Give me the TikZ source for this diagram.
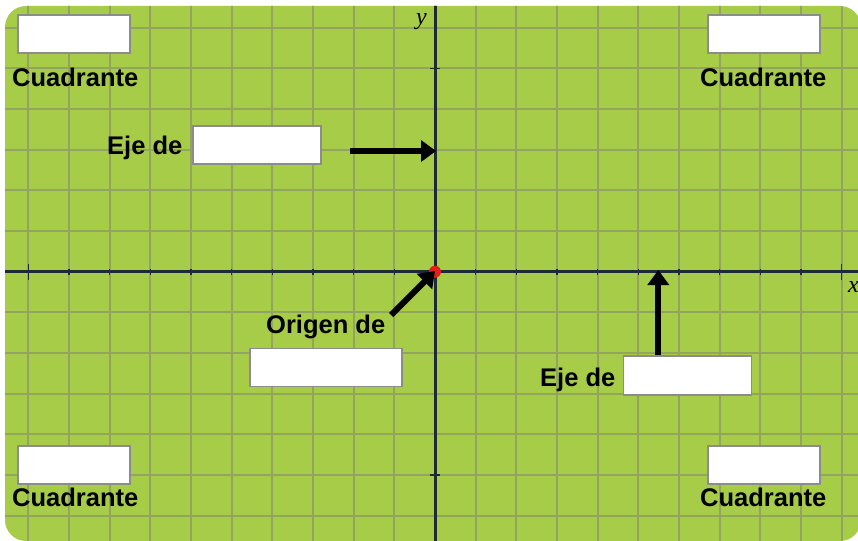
\documentclass[tikz,border=0pt]{standalone}
\usepackage{fontspec}
\setmainfont{Liberation Sans}
\newfontfamily\axisfont{Liberation Serif}
\usetikzlibrary{arrows.meta}
\definecolor{bggreen}{RGB}{166,204,72}
\definecolor{gridc}{RGB}{146,164,96}
\definecolor{axisc}{RGB}{30,42,54}
\definecolor{boxborder}{RGB}{140,140,140}
\definecolor{dotred}{RGB}{226,30,30}
\begin{document}
\begin{tikzpicture}[x=1pt,y=-1pt,
  blank/.style={draw=boxborder, line width=1.5pt, fill=white, inner sep=0pt},
  lbl/.style={font=\fontsize{25.5}{28}\selectfont\bfseries, inner sep=0pt, anchor=base west},
  axlbl/.style={font=\axisfont\itshape\fontsize{24}{26}\selectfont, inner sep=0pt, anchor=base west},
  pointer/.style={line width=6pt, -{Triangle[length=15pt,width=21pt]}},
  gridline/.style={gridc, line width=2pt},
  axisline/.style={axisc, line width=3pt}]
\useasboundingbox (0,0) rectangle (858,540);
\begin{scope}
  \clip (0,0) rectangle (858,540);
  \path[fill=bggreen, rounded corners=21pt] (5,6) rectangle (861,541);
  \begin{scope}
    \clip[rounded corners=21pt] (5,6) rectangle (861,541);
    \foreach \i in {-10,...,10}
      \draw[gridline] ({435+40.67*\i},0) -- ({435+40.67*\i},545);
    \foreach \j in {-6,...,6}
      \draw[gridline] (0,{271.7+40.67*\j}) -- (865,{271.7+40.67*\j});
    % axes
    \draw[axisline] (0,271.7) -- (865,271.7);
    \draw[axisline] (435,0) -- (435,545);
    % ticks
    \foreach \i in {-9,...,-1,1,2,...,9}
      \draw[axisc, line width=1.2pt] ({435+40.67*\i},268.5) -- ({435+40.67*\i},275);
    \foreach \i in {-10,10}
      \draw[axisc, line width=1.5pt] ({435+40.67*\i},264) -- ({435+40.67*\i},279.5);
    \foreach \j in {-5,5}
      \draw[axisc, line width=1.5pt] (430,{271.7+40.67*\j}) -- (440,{271.7+40.67*\j});
  \end{scope}
\end{scope}
% axis labels
\node[axlbl] (ylab) at (416,25) {y};
\node[axlbl] (xlab) at (848,292) {x};
% origin dot
\node[circle, fill=dotred, inner sep=0pt, minimum size=12pt] (origin) at (435,271.7) {};
% blank boxes
\node[blank, minimum width=112pt, minimum height=38pt] (boxtl) at (74,34) {};
\node[blank, minimum width=112pt, minimum height=38pt] (boxtr) at (764,34) {};
\node[blank, minimum width=112pt, minimum height=38pt] (boxbl) at (74,465) {};
\node[blank, minimum width=112pt, minimum height=38pt] (boxbr) at (764,465) {};
\node[blank, minimum width=128pt, minimum height=38pt] (boxy) at (257,145) {};
\node[blank, minimum width=152pt, minimum height=38pt] (boxo) at (326,367.5) {};
\node[blank, minimum width=128pt, minimum height=39pt] (boxx) at (687.5,375.5) {};
% labels
\node[lbl] (ctl) at (12,87) {Cuadrante};
\node[lbl] (ctr) at (700,87) {Cuadrante};
\node[lbl] (cbl) at (12,506) {Cuadrante};
\node[lbl] (cbr) at (700,506) {Cuadrante};
\node[lbl] (ejey) at (107,155) {Eje de};
\node[lbl] (orig) at (266,333) {Origen de};
\node[lbl] (ejex) at (540,386) {Eje de};
% pointers
\coordinate (p1s) at (350,151);
\coordinate (p1e) at (436,151);
\draw[pointer] (p1s) -- (p1e);
\coordinate (p2s) at (391,315);
\coordinate (p2e) at (435,271);
\draw[pointer] (p2s) -- (p2e);
\coordinate (p3s) at (658.3,355);
\coordinate (p3e) at (658.3,270);
\draw[pointer] (p3s) -- (p3e);
\end{tikzpicture}
\end{document}
